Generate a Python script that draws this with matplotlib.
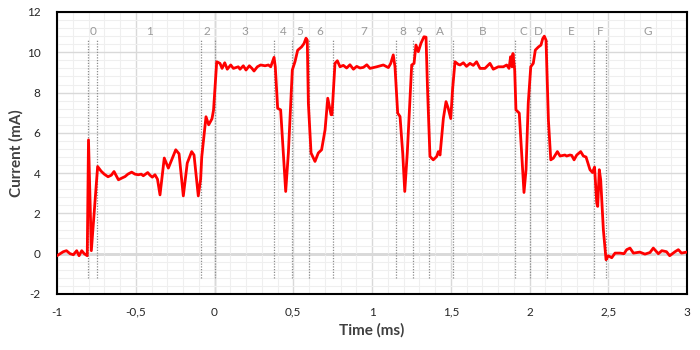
import matplotlib
matplotlib.use("Agg")
import matplotlib.pyplot as plt
from matplotlib.ticker import MultipleLocator, FuncFormatter

time_ms = [
    -1.000, -0.980, -0.960, -0.940, -0.917, -0.896, -0.875, -0.860, -0.843, -0.827,
    -0.808, -0.800, -0.782, -0.742, -0.720, -0.700, -0.676, -0.655, -0.638, -0.610,
    -0.590, -0.568, -0.550, -0.526, -0.505, -0.484, -0.465, -0.452, -0.424, -0.410,
    -0.395, -0.378, -0.362, -0.346, -0.319, -0.293, -0.246, -0.225, -0.198, -0.173,
    -0.145, -0.130, -0.103, -0.088, -0.081, -0.054, -0.037, -0.016, -0.006, 0.014,
    0.035, 0.048, 0.065, 0.081, 0.103, 0.120, 0.151, 0.162, 0.183, 0.200,
    0.221, 0.238, 0.251, 0.272, 0.293, 0.321, 0.342, 0.357, 0.378, 0.386,
    0.401, 0.420, 0.437, 0.452, 0.469, 0.494, 0.511, 0.528, 0.553, 0.568,
    0.581, 0.589, 0.596, 0.613, 0.638, 0.659, 0.680, 0.702, 0.719, 0.740,
    0.746, 0.765, 0.780, 0.797, 0.818, 0.839, 0.860, 0.882, 0.903, 0.924,
    0.945, 0.967, 0.987, 1.030, 1.072, 1.104, 1.119, 1.135, 1.146, 1.163,
    1.178, 1.195, 1.208, 1.224, 1.252, 1.267, 1.279, 1.294, 1.311, 1.330,
    1.343, 1.352, 1.368, 1.389, 1.411, 1.421, 1.432, 1.453, 1.470, 1.484,
    1.500, 1.512, 1.527, 1.548, 1.559, 1.580, 1.600, 1.622, 1.643, 1.664,
    1.686, 1.717, 1.749, 1.770, 1.802, 1.834, 1.855, 1.870, 1.880, 1.889,
    1.895, 1.906, 1.914, 1.935, 1.950, 1.965, 1.978, 1.992, 2.008, 2.024,
    2.037, 2.056, 2.073, 2.084, 2.094, 2.105, 2.120, 2.135, 2.151, 2.177,
    2.194, 2.225, 2.236, 2.257, 2.268, 2.283, 2.300, 2.325, 2.342, 2.359,
    2.384, 2.400, 2.413, 2.427, 2.433, 2.443, 2.452, 2.469, 2.486, 2.500,
    2.522, 2.543, 2.575, 2.600, 2.617, 2.638, 2.660, 2.700, 2.733, 2.765,
    2.786, 2.818, 2.840, 2.870, 2.890, 2.924, 2.945, 2.965, 2.997,
]
current_ma = [
    -0.10, 0.00, 0.10, 0.15, 0.00, -0.05, 0.15, -0.10, 0.15, 0.00,
    -0.10, 5.65, 0.15, 4.33, 4.10, 3.95, 3.82, 3.90, 4.08, 3.67,
    3.75, 3.83, 3.95, 4.05, 3.95, 3.92, 3.95, 3.87, 4.03, 3.90,
    3.80, 3.92, 3.70, 2.92, 4.75, 4.25, 5.16, 4.96, 2.87, 4.50,
    5.07, 4.90, 2.87, 3.70, 4.80, 6.80, 6.40, 6.70, 7.14, 9.53,
    9.45, 9.20, 9.48, 9.16, 9.37, 9.20, 9.28, 9.16, 9.33, 9.12,
    9.33, 9.20, 9.07, 9.28, 9.37, 9.33, 9.37, 9.28, 9.75, 9.28,
    7.22, 7.14, 4.99, 3.09, 5.00, 9.12, 9.53, 10.10, 10.27, 10.43,
    10.70, 10.60, 7.47, 5.00, 4.58, 5.00, 5.16, 6.15, 7.72, 6.90,
    6.90, 9.45, 9.58, 9.28, 9.35, 9.22, 9.38, 9.16, 9.30, 9.22,
    9.25, 9.38, 9.20, 9.28, 9.37, 9.24, 9.45, 9.87, 9.28, 6.98,
    6.81, 4.99, 3.09, 5.00, 9.37, 9.45, 10.36, 10.03, 10.45, 10.77,
    10.75, 8.30, 4.83, 4.66, 4.83, 5.07, 4.90, 6.71, 7.55, 7.22,
    6.71, 8.20, 9.53, 9.40, 9.37, 9.48, 9.30, 9.45, 9.35, 9.53,
    9.20, 9.20, 9.45, 9.16, 9.28, 9.28, 9.37, 9.20, 9.78, 9.28,
    9.94, 9.12, 7.14, 6.98, 5.00, 3.04, 4.17, 7.47, 9.28, 9.45,
    10.11, 10.26, 10.36, 10.68, 10.80, 10.60, 6.64, 4.66, 4.74, 5.07,
    4.85, 4.90, 4.85, 4.90, 4.88, 4.66, 4.90, 5.07, 4.85, 4.80,
    4.17, 4.03, 4.30, 2.51, 2.35, 4.17, 3.67, 1.19, -0.30, -0.10,
    -0.20, 0.03, 0.03, 0.00, 0.20, 0.28, 0.03, 0.08, -0.02, 0.06,
    0.28, 0.00, 0.15, 0.10, -0.10, 0.10, 0.20, 0.03, 0.08,
]

marker_times = [-0.803, -0.746, -0.086, 0.0, 0.378, 0.492, 0.600, 0.752,
                1.152, 1.260, 1.362, 1.512, 1.908, 2.003, 2.111, 2.410, 2.486]
segment_labels = ["0", "1", "2", "3", "4", "5", "6", "7", "8", "9",
                  "A", "B", "C", "D", "E", "F", "G"]
label_times = [-0.771, -0.41, -0.048, 0.194, 0.435, 0.543, 0.67, 0.949,
               1.197, 1.298, 1.432, 1.705, 1.959, 2.054, 2.263, 2.448, 2.752]

plt.rcParams['font.family'] = ['Lato', 'DejaVu Sans']

fig = plt.figure(figsize=(7, 3.5), dpi=100)
ax = fig.add_axes([57/700, 1 - 294/350, 630/700, 282/350])

ax.set_xlim(-1, 3)
ax.set_ylim(-2, 12)
ax.xaxis.set_major_locator(MultipleLocator(0.5))
ax.xaxis.set_minor_locator(MultipleLocator(0.1))
ax.yaxis.set_major_locator(MultipleLocator(2))
ax.yaxis.set_minor_locator(MultipleLocator(0.4))
ax.grid(which='major', color='#d9d9d9', linewidth=1.0)
ax.grid(which='minor', color='#efefef', linewidth=0.8)
ax.set_axisbelow(True)
ax.axhline(0, color='#d0d0d0', linewidth=1.8, zorder=0.5)
ax.axvline(0, color='#bdbdbd', linewidth=1.0, zorder=0.5)

fmt = FuncFormatter(lambda v, p: ('%g' % v).replace('.', ','))
ax.xaxis.set_major_formatter(fmt)
ax.yaxis.set_major_formatter(fmt)
ax.tick_params(which='both', length=0, labelsize=8.5, labelcolor='#262626')
ax.tick_params(axis='x', pad=9)
ax.tick_params(axis='y', pad=12)

for t in marker_times:
    ax.plot([t, t], [-1.2, 10.6], color='#8c8c8c', linestyle=(0, (1, 1.2)),
            linewidth=0.9, zorder=1)
for lab, t in zip(segment_labels, label_times):
    ax.text(t, 11.05, lab, color='#9a9a9a', fontsize=8.5, ha='center', va='center')

ax.plot(time_ms, current_ma, color='#ff0000', linewidth=2.0, zorder=3,
        solid_joinstyle='round', solid_capstyle='round')

for s in ax.spines.values():
    s.set_color('#000000')
    s.set_linewidth(1.5)

ax.set_xlabel('Time (ms)', fontsize=11, fontweight='bold', color='#404040', labelpad=4)
ax.set_ylabel('Current (mA)', fontsize=11, fontweight='bold', color='#404040', labelpad=2)

fig.savefig('out.png', dpi=100)
